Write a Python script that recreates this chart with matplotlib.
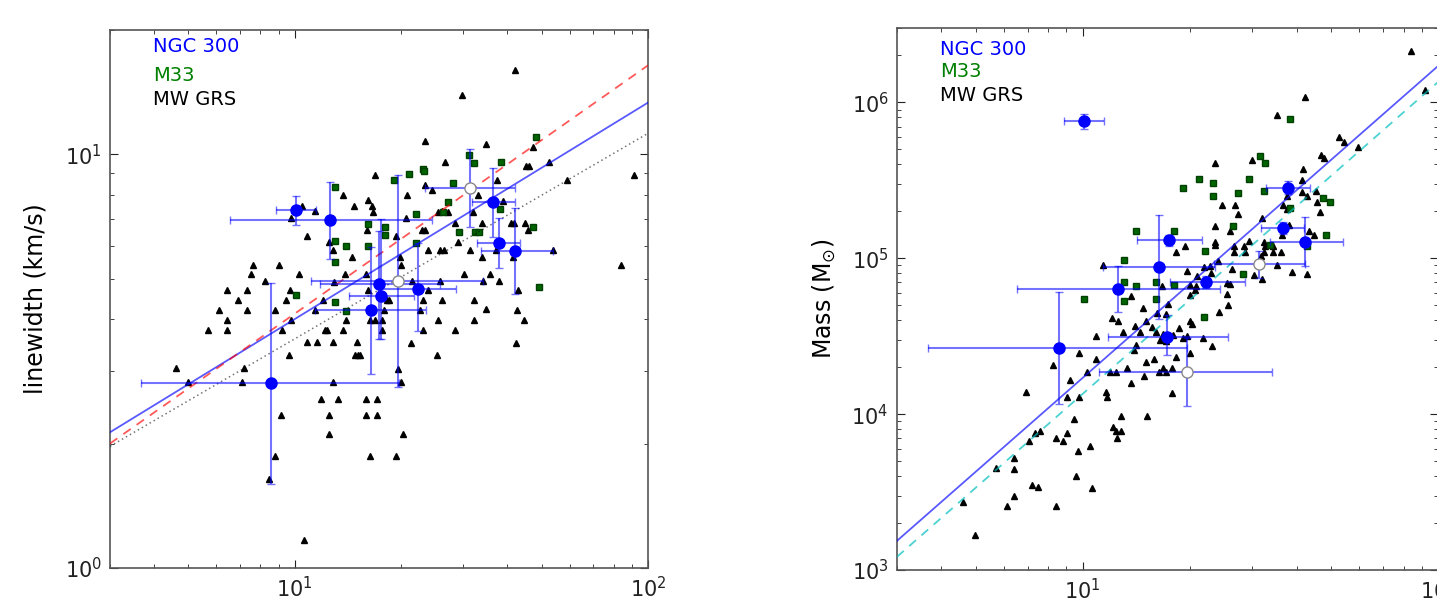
import numpy as np
import matplotlib
matplotlib.use("Agg")
import matplotlib.pyplot as plt
from matplotlib.ticker import LogLocator, NullFormatter

# ---------------- data ----------------
# MW GRS clouds, linewidth panel (radius pc, linewidth km/s)
mw_lw_r = [41.9, 29.8, 23.3, 34.9, 47.2, 26.6, 45.2, 46.1, 52.3, 16.9, 23.3, 24.4, 20.8, 37.3, 58.9,
           91.5, 33.0, 38.8, 25.4, 26.2, 27.2, 31.9, 20.7, 28.4, 33.8, 41.0, 41.7, 44.9, 45.7, 22.9,
           23.4, 19.3, 29.0, 19.8, 19.95, 23.9, 25.8, 26.4, 31.4, 37.2, 34.0, 41.4, 53.8, 83.9, 13.7,
           16.1, 14.7, 16.6, 16.7, 10.5, 11.4, 9.73, 16.0, 10.8, 12.5, 12.8, 14.5, 7.61, 9.01, 7.53,
           10.3, 13.9, 15.9, 30.2, 35.8, 8.23, 12.9, 21.5, 25.8, 34.1, 37.9, 6.43, 7.35, 9.70, 16.1,
           23.8, 42.9, 6.93, 9.44, 12.0, 18.2, 18.5, 23.0, 26.2, 32.2, 6.11, 7.35, 8.80, 11.4, 17.9,
           22.7, 34.9, 42.6, 6.43, 9.75, 14.0, 16.3, 16.9, 17.7, 25.5, 32.2, 44.6, 5.70, 6.43, 9.22,
           12.2, 12.35, 13.7, 17.7, 23.0, 28.4, 10.8, 11.6, 12.8, 15.0, 21.4, 42.4, 9.61, 14.8, 15.1,
           15.3, 25.3, 4.61, 7.19, 19.6, 4.99, 7.10, 12.8, 19.95, 11.9, 13.25, 15.9, 17.1, 9.14, 12.5,
           15.9, 17.1, 12.5, 20.3, 8.78, 16.3, 19.4, 8.45, 10.6]
mw_lw_dv = [16.0, 13.9, 10.8, 10.6, 10.4, 9.60, 9.39, 9.39, 9.60, 8.91, 8.45, 8.22, 7.98, 8.69, 8.69,
            8.90, 7.98, 7.73, 7.27, 7.31, 7.27, 7.25, 7.04, 6.81, 6.81, 6.82, 6.82, 6.81, 6.56, 6.56,
            6.56, 6.36, 6.13, 5.66, 5.40, 5.87, 5.87, 5.87, 5.87, 5.86, 5.64, 5.65, 5.86, 5.40, 7.97,
            7.76, 7.50, 7.50, 7.27, 7.50, 7.28, 7.04, 6.56, 6.36, 6.13, 5.86, 5.65, 5.41, 5.41, 5.14,
            5.14, 5.14, 5.14, 5.14, 5.14, 4.93, 4.91, 4.93, 4.93, 4.93, 4.93, 4.71, 4.71, 4.71, 4.71,
            4.71, 4.71, 4.45, 4.45, 4.45, 4.45, 4.45, 4.45, 4.45, 4.45, 4.21, 4.21, 4.21, 4.21, 4.21,
            4.21, 4.22, 4.21, 3.97, 3.97, 3.97, 3.97, 3.97, 3.97, 3.98, 3.98, 3.98, 3.77, 3.77, 3.77,
            3.77, 3.77, 3.77, 3.77, 3.77, 3.77, 3.52, 3.52, 3.52, 3.52, 3.51, 3.51, 3.28, 3.28, 3.28,
            3.28, 3.28, 3.04, 3.04, 3.03, 2.82, 2.82, 2.82, 2.81, 2.56, 2.56, 2.56, 2.56, 2.35, 2.35,
            2.35, 2.35, 2.11, 2.11, 1.87, 1.87, 1.87, 1.64, 1.17]

# M33 clouds, linewidth panel
m33_lw_r = [13.0, 16.1, 13.0, 14.0, 16.1, 13.0, 48.2, 31.2, 32.2, 38.3, 21.1, 23.1, 23.2, 19.1, 28.1,
            27.1, 38.2, 26.3, 22.1, 18.0, 18.0, 29.1, 32.3, 33.2, 47.4, 22.0, 10.1, 13.0, 14.0, 49.2]
m33_lw_dv = [8.36, 6.78, 6.19, 6.00, 6.00, 5.50, 11.0, 9.99, 9.55, 9.58, 8.97, 9.24, 9.12, 8.68, 8.52,
             7.68, 7.39, 7.27, 7.19, 6.67, 6.39, 6.50, 6.50, 6.50, 6.68, 6.10, 4.57, 4.39, 4.18, 4.78]

# MW GRS clouds, mass panel (radius pc, mass Msun)
mw_m_r = [11.43, 19.4, 18.3, 16.7, 19.7, 21.0, 20.0, 13.7, 17.4, 14.8, 20.06, 20.7, 16.2, 17.2, 12.1,
          12.6, 15.1, 14.0, 15.7, 20.0, 20.3, 18.7, 13.0, 14.5, 16.1, 16.8, 16.5, 17.1, 18.0, 19.1,
          19.6, 10.9, 14.1, 13.9, 9.77, 10.9, 8.23, 15.1, 15.9, 18.3, 20.06, 10.3, 11.94, 12.4, 13.3,
          14.9, 16.4, 16.8, 17.1, 17.8, 9.21, 13.7, 6.93, 11.6, 11.7, 17.8, 9.05, 9.77,
          42.3, 35.2, 52.6, 54.4, 59.4, 46.9, 47.8, 30.0, 23.5, 41.8, 41.4, 41.5, 42.9, 45.4, 45.5,
          46.4, 37.7, 36.5, 37.7, 24.6, 26.9, 27.4, 32.0, 23.5, 26.0, 38.1, 36.3, 44.9, 43.4, 23.6,
          23.5, 29.3, 26.7, 26.6, 28.5, 28.6, 32.4, 32.5, 32.3, 34.4, 34.3, 36.1, 24.1, 26.3, 31.5,
          31.7, 35.2, 38.9, 42.7, 22.83, 23.0, 22.0, 30.4, 31.9, 25.4, 26.0, 20.8,
          25.5, 25.6, 24.2, 21.8, 23.1,
          4.59, 4.98, 5.70, 6.11, 6.39, 6.41, 6.39, 7.08, 7.33, 7.60, 7.20, 7.48, 8.41, 8.79, 8.41,
          9.02, 9.47, 9.57, 9.70, 10.45, 10.6, 12.17, 12.4, 12.8, 12.5, 12.8, 15.2, 84.0, 92.0]
mw_m_mass = [9.10e4, 1.19e5, 1.10e5, 6.68e4, 8.24e4, 7.65e4, 6.71e4, 5.76e4, 5.09e4, 4.77e4, 5.85e4,
             6.22e4, 4.46e4, 4.41e4, 4.14e4, 3.96e4, 3.96e4, 3.69e4, 3.62e4, 3.94e4, 3.79e4, 3.57e4,
             3.36e4, 3.36e4, 3.34e4, 3.26e4, 3.00e4, 2.93e4, 3.20e4, 3.06e4, 3.19e4, 3.19e4, 2.79e4,
             2.56e4, 2.47e4, 2.27e4, 2.07e4, 2.17e4, 2.27e4, 2.34e4, 2.47e4, 1.87e4, 1.87e4, 1.87e4,
             1.975e4, 1.76e4, 1.87e4, 1.975e4, 1.87e4, 1.975e4, 1.667e4, 1.58e4, 1.377e4, 1.377e4,
             1.29e4, 1.36e4, 1.29e4, 1.29e4,
             1.09e6, 8.28e5, 5.98e5, 5.55e5, 5.16e5, 4.61e5, 4.38e5, 4.24e5, 4.10e5, 3.71e5, 3.20e5,
             2.65e5, 2.50e5, 2.72e5, 2.30e5, 1.98e5, 2.50e5, 2.20e5, 2.08e5, 2.20e5, 2.20e5, 1.91e5,
             1.805e5, 1.62e5, 1.49e5, 1.63e5, 1.40e5, 1.40e5, 1.49e5, 1.28e5, 1.21e5, 1.29e5, 1.19e5,
             1.10e5, 1.19e5, 1.10e5, 1.28e5, 1.19e5, 1.10e5, 1.19e5, 1.10e5, 1.10e5, 9.66e4, 8.58e4,
             9.80e4, 1.04e5, 9.0e4, 8.12e4, 7.92e4, 8.87e4, 8.06e4, 8.85e4, 7.85e4, 7.37e4, 6.94e4,
             6.84e4, 6.6e4,
             5.91e4, 5.0e4, 4.53e4, 3.07e4, 2.75e4,
             2.75e3, 1.68e3, 4.51e3, 2.57e3, 5.20e3, 4.46e3, 3.0e3, 6.71e3, 7.56e3, 7.78e3, 3.51e3,
             3.40e3, 7.03e3, 6.71e3, 2.57e3, 7.56e3, 9.34e3, 4.03e3, 5.76e3, 6.27e3, 3.36e3, 8.24e3,
             7.74e3, 7.74e3, 7.03e3, 9.74e3, 9.74e3, 2.13e6, 1.2e6]

# M33 clouds, mass panel
m33_m_r = [38.4, 31.5, 32.5, 21.3, 23.2, 23.2, 29.4, 27.4, 32.4, 38.4, 47.6, 49.5, 26.4, 48.5, 22.1,
           33.6, 28.2, 42.8, 19.2, 14.1, 18.1, 13.1, 13.1, 14.1, 16.1, 18.1, 10.1, 13.1, 16.1, 22.0]
m33_m_mass = [7.85e5, 4.54e5, 4.11e5, 3.23e5, 3.03e5, 2.52e5, 3.23e5, 2.63e5, 2.71e5, 2.11e5, 2.42e5,
              2.30e5, 1.61e5, 1.40e5, 1.11e5, 1.21e5, 7.96e4, 1.19e5, 2.83e5, 1.50e5, 1.50e5, 9.8e4,
              7.0e4, 6.67e4, 7.05e4, 6.7e4, 5.48e4, 5.29e4, 5.48e4, 4.17e4]

# NGC 300 clouds (filled) -- radius, linewidth, mass with asymmetric ranges
ngc_r = [10.1, 12.6, 17.3, 22.3, 17.5, 16.4, 8.56, 36.5, 37.9, 42.1]
ngc_r_lo = [8.86, 6.55, 11.8, 17.6, 14.2, 11.4, 3.66, 31.7, 32.8, 33.7]
ngc_r_hi = [11.5, 24.4, 25.7, 28.7, 21.7, 23.6, 19.7, 41.9, 43.5, 53.9]
ngc_dv = [7.36, 6.94, 4.85, 4.72, 4.54, 4.21, 2.80, 7.66, 6.11, 5.85]
ngc_dv_lo = [6.77, 5.59, 3.58, 3.74, 3.58, 2.94, 1.60, 6.33, 5.31, 4.59]
ngc_dv_hi = [7.94, 8.60, 6.53, 6.11, 6.98, 5.99, 4.88, 9.29, 7.01, 7.41]
ngc_m = [7.57e5, 6.38e4, 3.13e4, 7.06e4, 1.31e5, 8.73e4, 2.64e4, 1.56e5, 2.84e5, 1.28e5]
ngc_m_lo = [6.76e5, 4.54e4, 2.39e4, 6.46e4, 1.20e5, 4.09e4, 1.16e4, 1.43e5, 2.60e5, 8.98e4]
ngc_m_hi = [8.43e5, 8.98e4, 4.34e4, 7.74e4, 1.42e5, 1.90e5, 6.10e4, 1.70e5, 3.13e5, 1.85e5]

# NGC 300 clouds (open symbols)
opn_r = [31.3, 19.6]
opn_r_lo = [23.4, 11.1]
opn_r_hi = [42.1, 34.2]
opn_dv = [8.32, 4.95]
opn_dv_lo = [6.69, 2.74]
opn_dv_hi = [10.3, 8.94]
opn_m = [9.12e4, 1.85e4]
opn_m_lo = [7.45e4, 1.12e4]
opn_m_hi = [1.11e5, 3.08e4]

# power-law relations y = A * R**b
fit_lw_ngc = (1.198, 0.5235)   # blue solid
fit_lw_m33 = (1.034, 0.6005)   # red dashed
fit_lw_mw = (1.141, 0.4969)    # grey dotted
fit_m_ngc = (171.0, 2.0)       # blue solid
fit_m_mw = (135.0, 2.0)        # cyan dashed

xlim = (3, 100)
lw_ylim = (1, 20)
m_ylim = (1e3, 3e6)

# ---------------- figure ----------------
W, H = 1437, 603
fig = plt.figure(figsize=(W / 100, H / 100), dpi=100)
ax1 = fig.add_axes([110 / W, (H - 568) / H, 538 / W, 538 / H])
ax2 = fig.add_axes([897 / W, (H - 570) / H, 541 / W, 542 / H])

blue_err = (0.0, 0.0, 1.0, 0.55)


def errs(v, lo, hi):
    v = np.asarray(v); lo = np.asarray(lo); hi = np.asarray(hi)
    return np.vstack([v - lo, hi - v])


def style(ax, ylim):
    ax.set_xscale('log')
    ax.set_yscale('log')
    ax.set_xlim(*xlim)
    ax.set_ylim(*ylim)
    ax.xaxis.set_minor_locator(LogLocator(base=10, subs=np.arange(2, 10)))
    ax.yaxis.set_minor_locator(LogLocator(base=10, subs=np.arange(2, 10)))
    ax.xaxis.set_minor_formatter(NullFormatter())
    ax.yaxis.set_minor_formatter(NullFormatter())
    ax.tick_params(which='both', direction='in', top=True, right=True, labelsize=15, colors='#222222')
    ax.tick_params(which='major', length=6, width=0.8, pad=6)
    ax.tick_params(which='minor', length=3, width=0.6)
    for s in ax.spines.values():
        s.set_color('#555555')
        s.set_linewidth(1.2)


xs = np.logspace(np.log10(xlim[0]), np.log10(xlim[1]), 100)

# ----- left: linewidth -----
style(ax1, lw_ylim)
ax1.plot(mw_lw_r, mw_lw_dv, linestyle='none', marker='^', ms=5, color='black', zorder=2)
ax1.plot(m33_lw_r, m33_lw_dv, linestyle='none', marker='s', ms=5, color='#006400',
         markeredgecolor='#004000', zorder=2)
ax1.plot(xs, fit_lw_ngc[0] * xs ** fit_lw_ngc[1], color='blue', lw=1.3, alpha=0.65, zorder=3)
ax1.plot(xs, fit_lw_m33[0] * xs ** fit_lw_m33[1], color='red', lw=1.3, ls=(0, (5, 4)), alpha=0.65, zorder=3)
ax1.plot(xs, fit_lw_mw[0] * xs ** fit_lw_mw[1], color='black', lw=1.1, ls=(0, (1, 2)), alpha=0.55, zorder=3)
ax1.errorbar(ngc_r, ngc_dv, xerr=errs(ngc_r, ngc_r_lo, ngc_r_hi), yerr=errs(ngc_dv, ngc_dv_lo, ngc_dv_hi),
             fmt='none', ecolor=blue_err, elinewidth=1.5, capsize=3, capthick=1, zorder=4)
ax1.errorbar(opn_r, opn_dv, xerr=errs(opn_r, opn_r_lo, opn_r_hi), yerr=errs(opn_dv, opn_dv_lo, opn_dv_hi),
             fmt='none', ecolor=blue_err, elinewidth=1.5, capsize=3, capthick=1, zorder=4)
ax1.plot(ngc_r, ngc_dv, linestyle='none', marker='o', ms=8, color='blue', markeredgecolor='blue', zorder=5)
ax1.plot(opn_r, opn_dv, linestyle='none', marker='o', ms=8, color='white', markeredgecolor='#888888', zorder=5)
ax1.set_ylabel('linewidth (km/s)', fontsize=17, labelpad=12)
ax1.text(0.08, 0.970, 'NGC 300', color='blue', fontsize=14, transform=ax1.transAxes, va='center')
ax1.text(0.08, 0.916, 'M33', color='green', fontsize=14, transform=ax1.transAxes, va='center')
ax1.text(0.08, 0.870, 'MW GRS', color='black', fontsize=14, transform=ax1.transAxes, va='center')

# ----- right: mass -----
style(ax2, m_ylim)
ax2.plot(mw_m_r, mw_m_mass, linestyle='none', marker='^', ms=5, color='black', zorder=2)
ax2.plot(m33_m_r, m33_m_mass, linestyle='none', marker='s', ms=5, color='#006400',
         markeredgecolor='#004000', zorder=2)
ax2.plot(xs, fit_m_ngc[0] * xs ** fit_m_ngc[1], color='blue', lw=1.3, alpha=0.65, zorder=3)
ax2.plot(xs, fit_m_mw[0] * xs ** fit_m_mw[1], color='c', lw=1.3, ls=(0, (5, 4)), alpha=0.7, zorder=3)
ax2.errorbar(ngc_r, ngc_m, xerr=errs(ngc_r, ngc_r_lo, ngc_r_hi), yerr=errs(ngc_m, ngc_m_lo, ngc_m_hi),
             fmt='none', ecolor=blue_err, elinewidth=1.5, capsize=3, capthick=1, zorder=4)
ax2.errorbar(opn_r, opn_m, xerr=errs(opn_r, opn_r_lo, opn_r_hi), yerr=errs(opn_m, opn_m_lo, opn_m_hi),
             fmt='none', ecolor=blue_err, elinewidth=1.5, capsize=3, capthick=1, zorder=4)
ax2.plot(ngc_r, ngc_m, linestyle='none', marker='o', ms=8, color='blue', markeredgecolor='blue', zorder=5)
ax2.plot(opn_r, opn_m, linestyle='none', marker='o', ms=8, color='white', markeredgecolor='#888888', zorder=5)
ax2.set_ylabel(r'Mass (M$_{\odot}$)', fontsize=17, labelpad=10)
ax2.text(0.0795, 0.961, 'NGC 300', color='blue', fontsize=14, transform=ax2.transAxes, va='center')
ax2.text(0.0795, 0.919, 'M33', color='green', fontsize=14, transform=ax2.transAxes, va='center')
ax2.text(0.0795, 0.875, 'MW GRS', color='black', fontsize=14, transform=ax2.transAxes, va='center')

fig.savefig('out.png', dpi=100)
